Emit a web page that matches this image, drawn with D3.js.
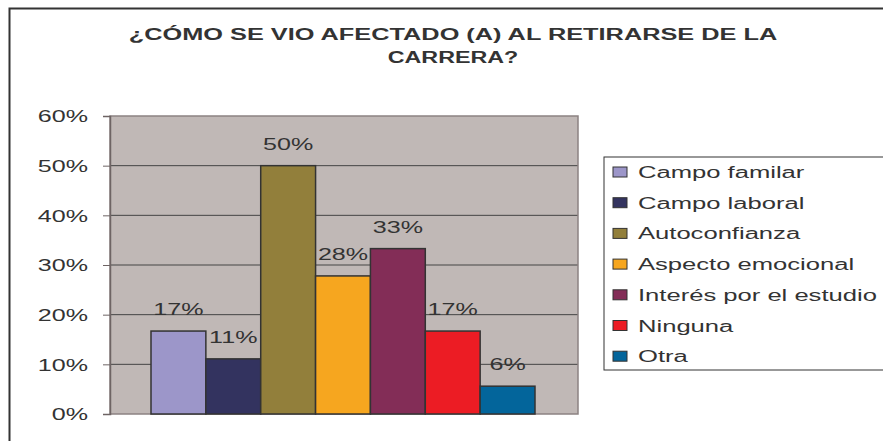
<!DOCTYPE html>
<html>
<head>
<meta charset="utf-8">
<script src="https://cdn.jsdelivr.net/npm/d3@7"></script>
<style>
  body { margin: 0; background: #fff; }
  svg { display: block; font-family: "Liberation Sans", Arial, sans-serif; }
  text { fill: #333; }
</style>
</head>
<body>
<svg id="chart" width="883" height="441"></svg>
<script>
// --- Data ------------------------------
const categories = ["Campo familar", "Campo laboral", "Autoconfianza",
  "Aspecto emocional", "Interés por el estudio", "Ninguna", "Otra"];
const values = [0.167, 0.111, 0.5, 0.278, 0.333, 0.167, 0.056];
const valueLabels = ["17%", "11%", "50%", "28%", "33%", "17%", "6%"];
const colors = ["#9c96c9", "#33335f", "#927f3b", "#f6a61f", "#832d57", "#ec1c24", "#03659b"];
const yTicks = [0, 0.1, 0.2, 0.3, 0.4, 0.5, 0.6];
const titleLines = ["¿CÓMO SE VIO AFECTADO (A) AL RETIRARSE DE LA", "CARRERA?"];

// the whole picture is stretched sideways
const sx = 1.57;
// first title line is spaced out wider than the second
const titleScale = [1.49, 1.37];

const svg = d3.select("#chart");

// outer frame
svg.append("path")
  .attr("d", "M9.5,441 V8.5 H890")
  .attr("fill", "none")
  .attr("stroke", "#333")
  .attr("stroke-width", 2);

// --- Title ------------------------------
svg.append("g").selectAll("text")
  .data(titleLines)
  .enter().append("text")
  .attr("transform", (d, i) => "translate(453," + (40 + i * 23) + ") scale(" + titleScale[i] + ",1)")
  .attr("text-anchor", "middle")
  .style("font-size", "17px")
  .style("font-weight", "bold")
  .text(d => d);

// --- Plot ------------------------------
const plot = {left: 110, right: 578, top: 116, bottom: 414};

const y = d3.scaleLinear()
  .domain([0, 0.6])
  .range([plot.bottom, plot.top]);

const x = d3.scaleBand()
  .domain(categories)
  .range([151, 535]);

svg.append("rect")
  .attr("x", plot.left)
  .attr("y", plot.top)
  .attr("width", plot.right - plot.left)
  .attr("height", plot.bottom - plot.top)
  .attr("fill", "#c0b8b6");

// gridlines
svg.append("g")
  .selectAll("line")
  .data(yTicks.slice(1, -1))
  .enter().append("line")
  .attr("x1", plot.left)
  .attr("x2", plot.right)
  .attr("y1", d => y(d))
  .attr("y2", d => y(d))
  .attr("stroke", "#444")
  .attr("stroke-width", 1);

// plot border
svg.append("rect")
  .attr("x", plot.left)
  .attr("y", plot.top)
  .attr("width", plot.right - plot.left)
  .attr("height", plot.bottom - plot.top)
  .attr("fill", "none")
  .attr("stroke", "#8c8282")
  .attr("stroke-width", 1.5);

// y axis
const yAxis = svg.append("g")
  .attr("transform", "translate(" + plot.left + ",0)")
  .call(d3.axisLeft(y)
    .tickValues(yTicks)
    .tickFormat(d3.format(".0%"))
    .tickSize(7));

yAxis.select(".domain").attr("stroke", "#6e6464").attr("stroke-width", 1.5);
yAxis.selectAll(".tick line").attr("stroke", "#6e6464");
yAxis.selectAll(".tick text")
  .attr("x", null)
  .attr("dy", "0.36em")
  .attr("transform", "translate(-22,0) scale(" + sx + ",1)")
  .style("font-size", "16px")
  .style("font-family", "\"Liberation Sans\", Arial, sans-serif")
  .attr("fill", "#333");

// bars
svg.append("g")
  .selectAll("rect")
  .data(categories)
  .enter().append("rect")
  .attr("x", d => x(d))
  .attr("y", (d, i) => y(values[i]))
  .attr("width", x.bandwidth())
  .attr("height", (d, i) => y(0) - y(values[i]))
  .attr("fill", (d, i) => colors[i])
  .attr("stroke", "#333")
  .attr("stroke-width", 1.5);

// bar labels
svg.append("g")
  .selectAll("text")
  .data(categories)
  .enter().append("text")
  .attr("transform", (d, i) =>
    "translate(" + (x(d) + x.bandwidth() / 2) + "," + (y(values[i]) - 16) + ") scale(" + sx + ",1)")
  .attr("text-anchor", "middle")
  .style("font-size", "16px")
  .text((d, i) => valueLabels[i]);

// --- Legend ------------------------------
const legend = svg.append("g")
  .attr("transform", "translate(604,157)");

legend.append("rect")
  .attr("width", 300)
  .attr("height", 213)
  .attr("fill", "#fff")
  .attr("stroke", "#333")
  .attr("stroke-width", 1);

const items = legend.selectAll("g.item")
  .data(categories)
  .enter().append("g")
  .attr("class", "item")
  .attr("transform", (d, i) => "translate(0," + (15 + i * 30.7) + ")");

items.append("rect")
  .attr("x", 9)
  .attr("y", -5)
  .attr("width", 14)
  .attr("height", 10)
  .attr("fill", (d, i) => colors[i])
  .attr("stroke", "#333")
  .attr("stroke-width", 1);

items.append("text")
  .attr("transform", "translate(34,6) scale(1.6,1)")
  .style("font-size", "16px")
  .text(d => d);
</script>
</body>
</html>
